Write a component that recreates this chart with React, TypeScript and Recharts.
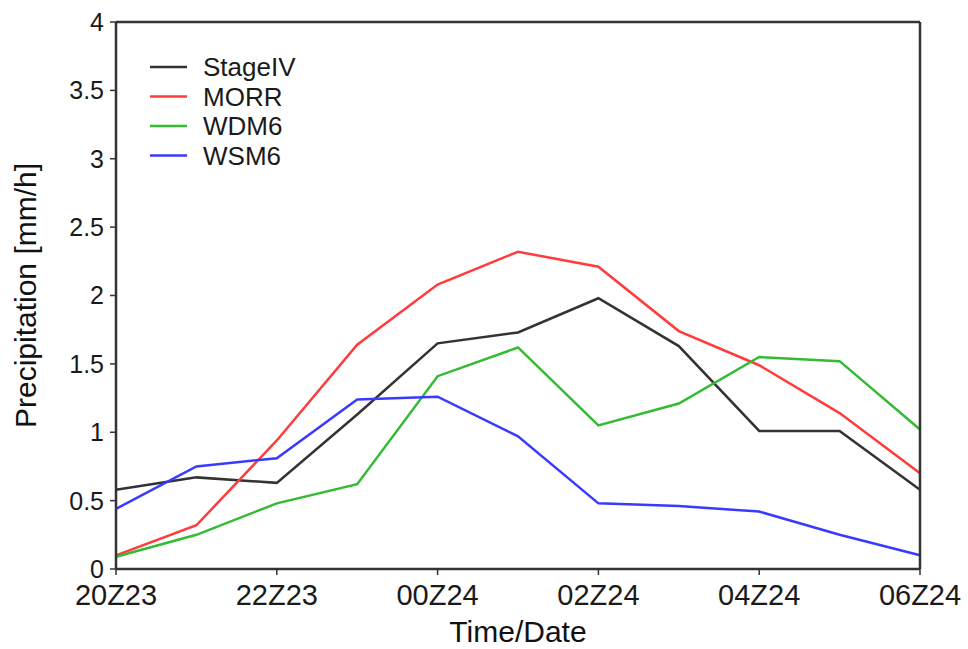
import { LineChart, Line, XAxis, YAxis, Legend, Label } from "recharts";

// hourly valid times, 20Z on the 23rd through 06Z on the 24th
const hours = [
  "20Z23", "21Z23", "22Z23", "23Z23", "00Z24", "01Z24",
  "02Z24", "03Z24", "04Z24", "05Z24", "06Z24",
];

// hourly precipitation [mm/h]
const stageIV = [0.58, 0.67, 0.63, 1.13, 1.65, 1.73, 1.98, 1.63, 1.01, 1.01, 0.58];
const morr = [0.1, 0.32, 0.94, 1.64, 2.08, 2.32, 2.21, 1.74, 1.49, 1.14, 0.7];
const wdm6 = [0.09, 0.25, 0.48, 0.62, 1.41, 1.62, 1.05, 1.21, 1.55, 1.52, 1.02];
const wsm6 = [0.44, 0.75, 0.81, 1.24, 1.26, 0.97, 0.48, 0.46, 0.42, 0.25, 0.1];

const xTicks = [0, 2, 4, 6, 8, 10];
const yTicks = [0, 0.5, 1, 1.5, 2, 2.5, 3, 3.5, 4];

const series = [
  { key: "StageIV", values: stageIV, color: "#333333" },
  { key: "MORR", values: morr, color: "#ff3b3b" },
  { key: "WDM6", values: wdm6, color: "#33bb33" },
  { key: "WSM6", values: wsm6, color: "#3a3aff" },
];

const data = hours.map((h, i) => {
  const row: Record<string, number | string> = { idx: i, hour: h };
  series.forEach((s) => (row[s.key] = s.values[i]));
  return row;
});

const AXIS = "#333333";
const FONT = "'Liberation Sans', Arial, Helvetica, sans-serif";

function LegendBox() {
  return (
    <svg width={200} height={130}>
      {series.map((s, i) => (
        <g key={s.key} transform={`translate(0, ${27 + i * 29.5})`}>
          <line x1={10} x2={47} y1={0} y2={0} stroke={s.color} strokeWidth={2.5} />
          <text x={63} y={9} fontSize={26} fill="#1a1a1a" fontFamily={FONT}>
            {s.key}
          </text>
        </g>
      ))}
    </svg>
  );
}

export default function App() {
  return (
    <div style={{ position: "absolute", left: 0, top: 0, background: "#fff" }}>
      <LineChart
        width={968}
        height={649}
        data={data}
        margin={{ top: 21, right: 47, bottom: 0, left: 0 }}
        style={{ fontFamily: FONT }}
      >
        <XAxis
          dataKey="idx"
          type="number"
          domain={[0, 10]}
          ticks={xTicks}
          tickFormatter={(v: number) => hours[v]}
          height={80}
          tickSize={6}
          tickMargin={9}
          axisLine={{ stroke: AXIS, strokeWidth: 2.5 }}
          tickLine={{ stroke: AXIS, strokeWidth: 1.5 }}
          tick={{ fill: "#1a1a1a", fontSize: 29 }}
          interval={0}
        >
          <Label
            value="Time/Date"
            position="insideBottom"
            offset={7}
            style={{ fill: "#111", fontSize: 30 }}
          />
        </XAxis>
        <XAxis
          xAxisId="top"
          orientation="top"
          dataKey="idx"
          type="number"
          domain={[0, 10]}
          ticks={xTicks}
          height={1}
          tick={false}
          tickSize={6}
          axisLine={{ stroke: AXIS, strokeWidth: 2.5 }}
          tickLine={{ stroke: AXIS, strokeWidth: 1.5 }}
        />
        <YAxis
          type="number"
          domain={[0, 4]}
          ticks={yTicks}
          width={116}
          tickSize={6}
          tickMargin={6}
          axisLine={{ stroke: AXIS, strokeWidth: 2.5 }}
          tickLine={{ stroke: AXIS, strokeWidth: 1.5 }}
          tick={{ fill: "#1a1a1a", fontSize: 25 }}
          interval={0}
        >
          <Label
            value="Precipitation [mm/h]"
            angle={-90}
            position="insideLeft"
            offset={25}
            style={{ fill: "#111", fontSize: 30, textAnchor: "middle" }}
          />
        </YAxis>
        <YAxis
          yAxisId="right"
          orientation="right"
          type="number"
          domain={[0, 4]}
          ticks={yTicks}
          width={1}
          tick={false}
          tickSize={6}
          axisLine={{ stroke: AXIS, strokeWidth: 2.5 }}
          tickLine={{ stroke: AXIS, strokeWidth: 1.5 }}
        />
        <Legend
          layout="vertical"
          align="center"
          verticalAlign="middle"
          wrapperStyle={{ left: 140, top: 40, width: 200, height: 130 }}
          content={() => <LegendBox />}
        />
        {series.map((s) => (
          <Line
            key={s.key}
            dataKey={s.key}
            stroke={s.color}
            strokeWidth={2.5}
            dot={false}
            activeDot={false}
            isAnimationActive={false}
          />
        ))}
      </LineChart>
    </div>
  );
}
